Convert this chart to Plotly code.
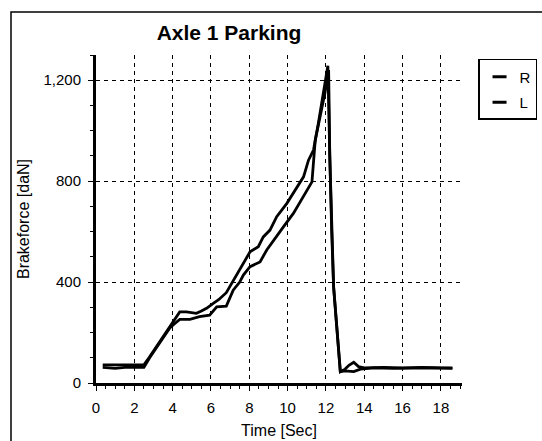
import plotly.graph_objects as go

# ---- data ----
time_r = [0.35, 1.0, 1.5, 2.0, 2.5, 2.8, 3.15, 3.5, 3.85, 4.1, 4.37, 4.72, 5.24, 5.5, 5.77,
          6.1, 6.4, 6.8, 7.16, 7.5, 7.69, 8.04, 8.47, 8.73, 9.08, 9.43, 9.96, 10.48, 10.83,
          11.09, 11.35, 11.6, 11.8, 12.05, 12.1, 12.2, 12.3, 12.4, 12.55, 12.75, 13.0, 13.2,
          13.45, 13.7, 14.0, 15.0, 16.0, 17.0, 18.0, 18.6]
force_r = [72, 72, 70, 72, 72, 104, 144, 183, 223, 250, 282, 282, 276, 285, 296,
           315, 330, 358, 405, 445, 474, 520, 540, 579, 606, 659, 712, 777, 817,
           883, 923, 1028, 1121, 1240, 1257, 900, 600, 381, 236, 45, 55, 70,
           82, 65, 60, 62, 60, 62, 60, 60]

time_l = [0.35, 1.0, 1.5, 2.0, 2.5, 2.8, 3.15, 3.5, 3.85, 4.1, 4.37, 4.9, 5.4, 5.93, 6.3,
          6.8, 7.16, 7.5, 7.69, 8.04, 8.56, 8.91, 9.26, 9.78, 10.3, 10.83, 11.27, 11.44,
          11.7, 11.95, 12.14, 12.2, 12.3, 12.4, 12.55, 12.75, 13.0, 13.45, 13.8, 14.5,
          15.5, 16.5, 17.5, 18.6]
force_l = [62, 58, 62, 62, 62, 100, 140, 180, 218, 235, 252, 252, 263, 269, 302,
           305, 368, 400, 428, 461, 480, 527, 566, 619, 672, 738, 797, 962,
           1055, 1150, 1240, 900, 600, 381, 236, 45, 48, 45, 55, 60,
           58, 60, 60, 58]

series_names = ["R", "L"]
x_ticks = [0, 2, 4, 6, 8, 10, 12, 14, 16, 18]
y_ticks = [0, 400, 800, 1200]
y_tick_text = ["0", "400", "800", "1,200"]

FONT = "Liberation Sans, Arial, sans-serif"

fig = go.Figure()
for name, xs, ys in [(series_names[0], time_r, force_r), (series_names[1], time_l, force_l)]:
    fig.add_trace(go.Scatter(x=xs, y=ys, mode="lines", name=name, showlegend=False,
                             line=dict(color="black", width=2.8)))
    # legend sample (short thick dash)
    fig.add_trace(go.Scatter(x=[None], y=[None], mode="markers", name=name, legendgroup=name,
                             marker=dict(symbol="line-ew", size=10, color="black",
                                         line=dict(color="black", width=3))))

fig.update_layout(
    width=542, height=441,
    margin=dict(l=96, r=80, t=55, b=58, autoexpand=False),
    paper_bgcolor="white", plot_bgcolor="white",
    font=dict(family=FONT, color="black", size=15),
    title=dict(text="<b>Axle 1 Parking</b>", xref="container", x=0.4225, xanchor="center",
               yref="container", y=1 - 33 / 441, yanchor="middle",
               font=dict(size=21, family=FONT, color="black")),
    legend=dict(x=1.0438, xanchor="left", y=0.988, yanchor="top",
                bordercolor="black", borderwidth=1.5, bgcolor="white",
                font=dict(size=15, family=FONT), tracegroupgap=3, itemwidth=30),
    showlegend=True,
)

fig.update_xaxes(
    range=[0, 19.1], tickvals=x_ticks, ticks="outside", ticklen=5, tickwidth=1,
    tickcolor="black", showline=True, linecolor="black", linewidth=3,
    showgrid=True, gridcolor="black", gridwidth=1, griddash="4px,4px",
    zeroline=False, tickfont=dict(size=15), ticklabelstandoff=4, automargin=False,
    minor=dict(dtick=0.5, ticks="outside", ticklen=3, tickcolor="black", showgrid=False),
    title=dict(text="Time [Sec]", font=dict(size=16), standoff=10),
)
fig.update_yaxes(
    range=[0, 1300], tickvals=y_ticks, ticktext=y_tick_text, ticks="outside", ticklen=5,
    tickwidth=1, tickcolor="black", showline=True, linecolor="black", linewidth=3,
    showgrid=True, gridcolor="black", gridwidth=1, griddash="4px,4px",
    zeroline=False, tickfont=dict(size=15), ticklabelstandoff=4, automargin=False,
    minor=dict(dtick=100, ticks="outside", ticklen=3, tickcolor="black", showgrid=False),
    title=dict(text="Brakeforce [daN]", font=dict(size=16), standoff=10),
)

# outer frame of the chart panel
fig.add_shape(type="rect", xref="paper", yref="paper",
              x0=(11 - 96) / 366, x1=1.3, y0=-0.3, y1=(383 - 12) / 328,
              line=dict(color="black", width=1.5), fillcolor="rgba(0,0,0,0)", layer="below")

fig.write_html("out.html")
